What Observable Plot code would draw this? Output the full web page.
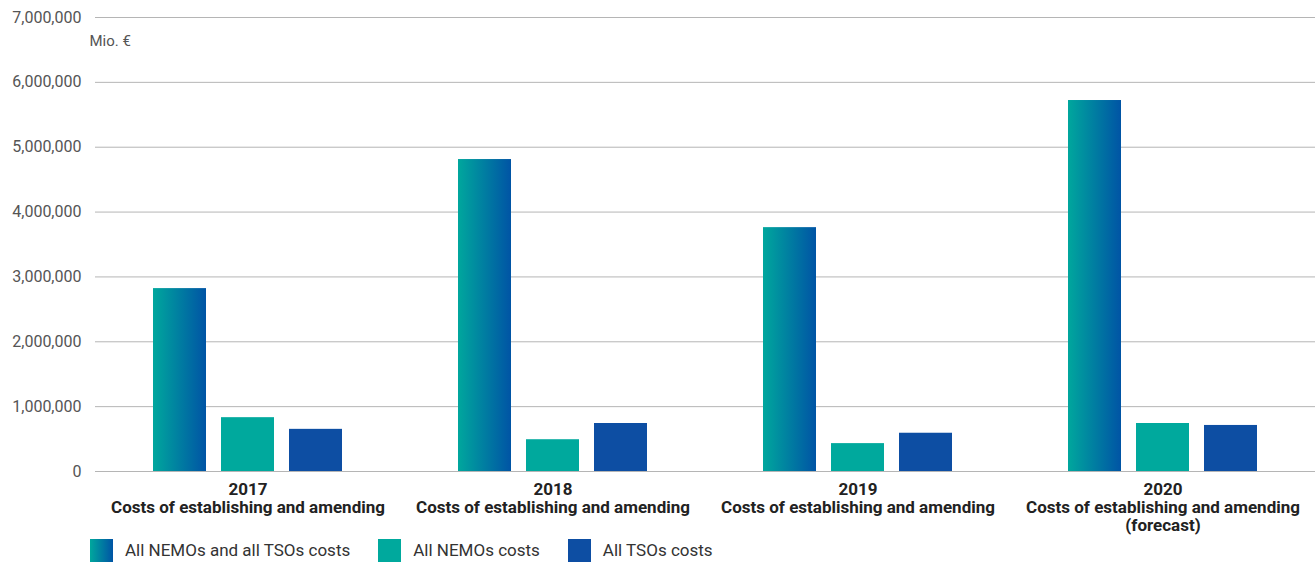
<!DOCTYPE html>
<html><head><meta charset="utf-8">
<script src="https://cdn.jsdelivr.net/npm/d3@7"></script>
<script src="https://cdn.jsdelivr.net/npm/@observablehq/plot@0.6"></script>
<style>
body{margin:0;background:#fff;font-family:Roboto,sans-serif;}
#chart svg{display:block;}
#legend{display:flex;align-items:center;height:24px;padding-left:90px;font-size:17px;color:#333;}
.item{display:flex;align-items:center;margin-right:28px;}
.sw{width:23px;height:23px;margin-right:12px;}
</style></head><body><div id="chart"></div><div id="legend"></div>
<script>
const years = ["2017", "2018", "2019", "2020"];
const yearLabels = [
  "2017\nCosts of establishing and amending",
  "2018\nCosts of establishing and amending",
  "2019\nCosts of establishing and amending",
  "2020\nCosts of establishing and amending\n(forecast)"
];
const series = ["All NEMOs and all TSOs costs", "All NEMOs costs", "All TSOs costs"];
const totalCosts = [2820000, 4810000, 3760000, 5720000];
const nemoCosts = [830000, 490000, 430000, 740000];
const tsoCosts = [650000, 740000, 590000, 710000];
const yTicks = [0, 1000000, 2000000, 3000000, 4000000, 5000000, 6000000, 7000000];
const unitLabel = "Mio. €";

const colors = ["url(#gradTotal)", "#00a99d", "#0d4ea3"];
const legendColors = ["linear-gradient(to right, #00a79d, #0054a5)", "#00a99d", "#0d4ea3"];

const valuesBySeries = [totalCosts, nemoCosts, tsoCosts];
const data = years.flatMap((y, i) => series.map((s, j) => ({year: y, series: s, value: valuesBySeries[j][i]})));

const chart = Plot.plot({
  width: 1315, height: 538,
  marginLeft: 94, marginRight: 0, marginTop: 17, marginBottom: 67,
  style: {fontFamily: "Roboto, sans-serif", background: "#fff"},
  fx: {domain: years, padding: 0, label: null},
  x: {domain: series, axis: null, paddingInner: 0.22, paddingOuter: 0.84},
  y: {domain: [0, 7000000], label: null},
  color: {domain: series, range: colors},
  marks: [
    Plot.gridY(yTicks, {stroke: "#b5b5b5", strokeOpacity: 1}),
    Plot.axisY(yTicks, {tickSize: 0, tickPadding: 14, fontSize: 16, fill: "#555", tickFormat: d3.format(","), label: null}),
    Plot.barY(data, {fx: "year", x: "series", y: "value", fill: "series"}),
    Plot.axisFx({anchor: "bottom", tickSize: 0, tickPadding: 11, fontSize: 17, lineHeight: 1.06, fontWeight: "bold", fill: "#222", label: null,
      tickFormat: d => yearLabels[years.indexOf(d)]}),
    Plot.text([{fx: "2017", t: unitLabel}], {fx: "fx", text: "t", frameAnchor: "top-left", dx: -6, dy: 18, fontSize: 15, fill: "#555", textAnchor: "start"})
  ]
});

// gradient definition
const ns = "http://www.w3.org/2000/svg";
const defs = document.createElementNS(ns, "defs");
const lg = document.createElementNS(ns, "linearGradient");
lg.setAttribute("id", "gradTotal");
lg.setAttribute("x1", "0"); lg.setAttribute("x2", "1"); lg.setAttribute("y1", "0"); lg.setAttribute("y2", "0");
[["0%", "#00a79d"], ["100%", "#0054a5"]].forEach(([o, c]) => {
  const st = document.createElementNS(ns, "stop");
  st.setAttribute("offset", o); st.setAttribute("stop-color", c);
  lg.appendChild(st);
});
defs.appendChild(lg);
chart.insertBefore(defs, chart.firstChild);
document.getElementById("chart").appendChild(chart);

const legend = document.getElementById("legend");
series.forEach((s, i) => {
  const item = document.createElement("div");
  item.className = "item";
  const sw = document.createElement("div");
  sw.className = "sw";
  sw.style.background = legendColors[i];
  const t = document.createElement("span");
  t.textContent = s;
  item.appendChild(sw); item.appendChild(t);
  legend.appendChild(item);
});
</script></body></html>
